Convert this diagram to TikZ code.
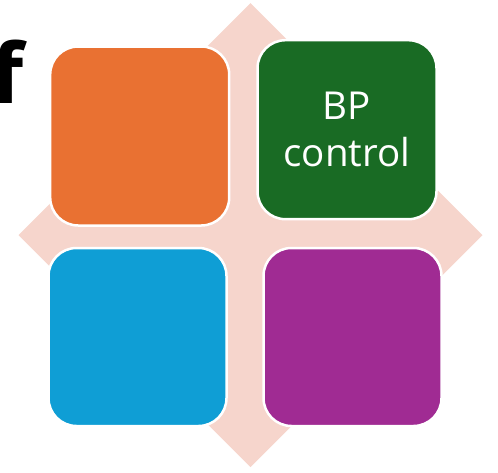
\documentclass[tikz,border=0pt]{standalone}
\usepackage{fontspec}
\setmainfont{Open Sans}
\usepackage{tikz}
\usetikzlibrary{positioning}

\definecolor{crossbg}{HTML}{F6D5CC}
\definecolor{quadorange}{HTML}{E97132}
\definecolor{quadgreen}{HTML}{196B24}
\definecolor{quadblue}{HTML}{0F9ED5}
\definecolor{quadpurple}{HTML}{A02B93}

\begin{document}
\begin{tikzpicture}[
    x=1pt, y=-1pt,
    quad/.style={draw=white, line width=2.5pt, rounded corners=28pt, minimum width=179pt, minimum height=179pt, inner sep=0pt, align=center, text=white, font=\fontsize{38.5}{47}\selectfont},
]
    \useasboundingbox (0,0) rectangle (498,472);

    % four-way arrow behind the boxes
    \fill[crossbg] (250.5,3) -- (335.5,88) -- (280.5,88) -- (280.5,205) -- (397.5,205) -- (397.5,150)
        -- (482.5,235) -- (397.5,320) -- (397.5,265) -- (280.5,265) -- (280.5,382) -- (335.5,382)
        -- (250.5,467) -- (165.5,382) -- (220.5,382) -- (220.5,265) -- (103.5,265) -- (103.5,320)
        -- (18.5,235) -- (103.5,150) -- (103.5,205) -- (220.5,205) -- (220.5,88) -- (165.5,88) -- cycle;

    % quadrants
    \node[quad, fill=quadorange] (tl) at (139.7,136) {};
    \node[quad, fill=quadgreen] (tr) at (347,129.7) {BP\\control};
    \node[quad, fill=quadblue, minimum width=178pt, minimum height=178pt] (bl) at (137.5,337) {};
    \node[quad, fill=quadpurple, minimum width=178pt, minimum height=178pt] (br) at (352.5,337) {};

    % panel letter
    \node[anchor=base east, inner sep=0pt, font=\fontsize{83}{90}\selectfont\bfseries] (lbl) at (24,103) {f};
\end{tikzpicture}
\end{document}
